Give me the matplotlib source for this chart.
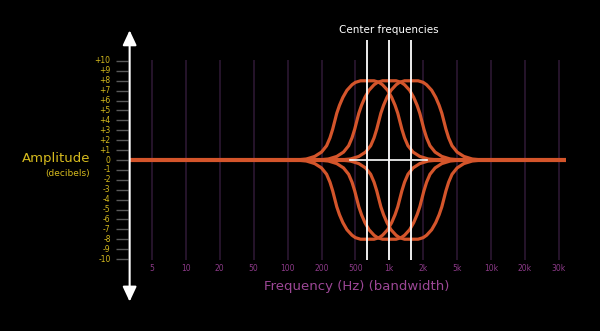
import matplotlib.pyplot as plt
import numpy as np

# x axis categories (evenly spaced on the chart)
freq_labels = ['5', '10', '20', '50', '100', '200', '500', '1k', '2k', '5k', '10k', '20k', '30k']
db_ticks = list(range(-10, 11))

# filter centers, as positions on the category axis (1k = index 7)
center_idx = [6.35, 7.0, 7.65]
gains = [8, -8]

# bell profile: offset from center (category units) -> fraction of gain
profile_off = [0, 0.2, 0.35, 0.45, 0.6, 0.72, 0.82, 0.9, 0.96, 1.02, 1.1, 1.2, 1.35, 1.55, 1.8, 2.1]
profile_frac = [1, 1.0, 0.98, 0.95, 0.88, 0.79, 0.69, 0.59, 0.49, 0.39, 0.28, 0.18, 0.1, 0.045, 0.012, 0]

orange = '#d4552b'
yellow = '#d6bb1e'
purple = '#8c3a88'
grid_col = '#2c1832'

fig = plt.figure(figsize=(6, 3.31), dpi=100, facecolor='black')
ax = fig.add_axes([0, 0, 1, 1])
ax.set_facecolor('black')
ax.set_xlim(-4.484, 13.215)
ax.set_ylim(-17.27, 16.16)
ax.axis('off')

xpos = np.arange(len(freq_labels))
axis_x = -0.66

# vertical grid lines + tick labels
ax.vlines(xpos, -10.1, 10.1, color=grid_col, lw=1.2, zorder=1)
for i, lab in zip(xpos, freq_labels):
    ax.text(i, -11.0, lab, color=purple, fontsize=5.5, ha='center', va='center')

# y ticks
ax.hlines(db_ticks, -1.06, axis_x - 0.05, color='#5a5a5a', lw=1.0, zorder=1)
for v in db_ticks:
    lab = '+%d' % v if v > 0 else str(v)
    ax.text(-1.22, v, lab, color=yellow, fontsize=5.5, ha='right', va='center')

# curves (profile mirrored around each center)
off = np.concatenate([-np.array(profile_off[::-1]), np.array(profile_off[1:])])
frac = np.concatenate([np.array(profile_frac[::-1]), np.array(profile_frac[1:])])
for c in center_idx:
    for g in gains:
        ax.plot(c + off, g * frac, color=orange, lw=2.3, solid_capstyle='round',
                solid_joinstyle='round', zorder=3)

# zero line, broken where the white marker runs
z0, z1 = center_idx[0] - 0.5, center_idx[-1] + 0.45
ax.plot([axis_x, z0], [0, 0], color=orange, lw=3.0, solid_capstyle='butt', zorder=3)
ax.plot([z1, 12.2], [0, 0], color=orange, lw=3.0, solid_capstyle='butt', zorder=3)
ax.plot([z0, z1], [0, 0], color='white', lw=1.2, zorder=4)

# center frequency markers
ax.vlines(center_idx, -10.1, 12.1, color='white', lw=1.3, zorder=4)
ax.text(center_idx[1], 13.1, 'Center frequencies', color='white', fontsize=7.5,
        ha='center', va='center')

# y axis double arrow
ax.annotate('', xy=(axis_x, 13.1), xytext=(axis_x, -14.3),
            arrowprops=dict(arrowstyle='<|-|>,head_length=0.9,head_width=0.42',
                            color='white', lw=1.5, shrinkA=0, shrinkB=0), zorder=5)

ax.text(-1.83, 0.2, 'Amplitude', color=yellow, fontsize=9.5, ha='right', va='center')
ax.text(-1.83, -1.4, '(decibels)', color=yellow, fontsize=6.5, ha='right', va='center')
ax.text(6.05, -12.8, 'Frequency (Hz) (bandwidth)', color='#9c4796', fontsize=9.5,
        ha='center', va='center')

fig.savefig('out.png', dpi=100, facecolor='black')
